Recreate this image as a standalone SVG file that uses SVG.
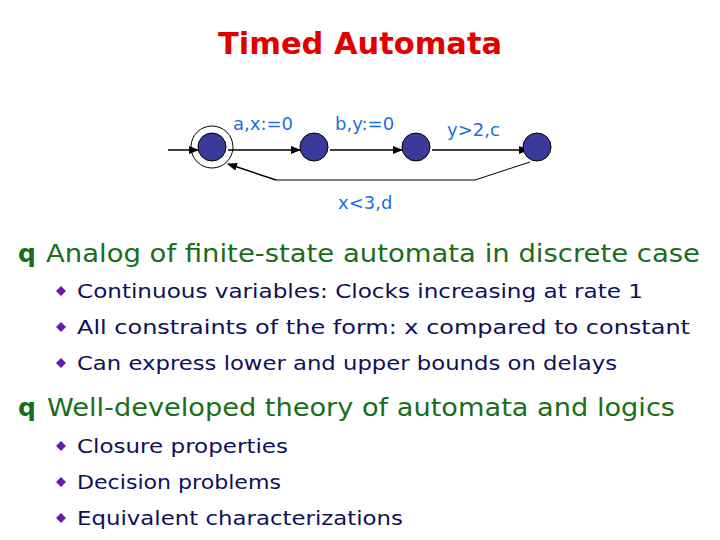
<svg xmlns="http://www.w3.org/2000/svg" width="720" height="540" viewBox="0 0 720 540">
<defs>
<marker id="ah" markerWidth="10" markerHeight="8" refX="9" refY="4" orient="auto" markerUnits="userSpaceOnUse"><path d="M0,0 L10,4 L0,8 z" fill="#000"/></marker>
<style>
text{font-family:"DejaVu Sans","Liberation Sans",sans-serif}
.lbl{fill:#1e6ee0;font-size:18px}
.st{fill:#3a3a9a;stroke:#000;stroke-width:1}
.h{fill:#1a6e1a;font-size:25px}
.b{fill:#10105a;font-size:20px}
.bul{fill:#6a1ab0}
.e{fill:none;stroke:#000;stroke-width:1.5}
</style>
</defs>
<rect width="720" height="540" fill="#fff"/>
<text x="360" y="54" text-anchor="middle" fill="#e00000" font-size="31" font-weight="bold" textLength="284" lengthAdjust="spacingAndGlyphs">Timed Automata</text>
<g id="connectors">
<line class="e" x1="168" y1="150" x2="198" y2="150" marker-end="url(#ah)"/>
<line class="e" x1="228" y1="150" x2="300" y2="150" marker-end="url(#ah)"/>
<line class="e" x1="330" y1="150" x2="402" y2="150" marker-end="url(#ah)"/>
<line class="e" x1="432" y1="150" x2="528" y2="150" marker-end="url(#ah)"/>
<polyline fill="none" stroke="#000" stroke-width="1" points="530,162 475,180 276,180"/>
<line class="e" x1="276" y1="180" x2="228" y2="164" marker-end="url(#ah)"/>
</g>
<g id="s0"><circle cx="212" cy="147" r="21" fill="none" stroke="#000"/><circle class="st" cx="212" cy="147" r="14"/></g>
<g id="s1"><circle class="st" cx="314" cy="147" r="14"/></g>
<g id="s2"><circle class="st" cx="416" cy="147" r="14"/></g>
<g id="s3"><circle class="st" cx="537" cy="147" r="14"/></g>
<text class="lbl" x="233" y="130">a,x:=0</text>
<text class="lbl" x="335" y="130">b,y:=0</text>
<text class="lbl" x="447" y="136">y&gt;2,c</text>
<text class="lbl" x="338" y="209">x&lt;3,d</text>
<text class="h" x="18" y="262" font-weight="bold">q</text>
<text class="h" x="46" y="262" textLength="654" lengthAdjust="spacingAndGlyphs">Analog of finite-state automata in discrete case</text>
<text class="h" x="18" y="416" font-weight="bold">q</text>
<text class="h" x="47" y="416" textLength="628" lengthAdjust="spacingAndGlyphs">Well-developed theory of automata and logics</text>
<g class="bul">
<path d="M56,291 l5,-5 l5,5 l-5,5z"/><path d="M56,327 l5,-5 l5,5 l-5,5z"/><path d="M56,363 l5,-5 l5,5 l-5,5z"/>
<path d="M56,446 l5,-5 l5,5 l-5,5z"/><path d="M56,482 l5,-5 l5,5 l-5,5z"/><path d="M56,518 l5,-5 l5,5 l-5,5z"/>
</g>
<text class="b" x="77" y="298" textLength="566" lengthAdjust="spacingAndGlyphs">Continuous variables: Clocks increasing at rate 1</text>
<text class="b" x="77" y="334" textLength="613" lengthAdjust="spacingAndGlyphs">All constraints of the form: x compared to constant</text>
<text class="b" x="77" y="370" textLength="540" lengthAdjust="spacingAndGlyphs">Can express lower and upper bounds on delays</text>
<text class="b" x="77" y="453" textLength="211" lengthAdjust="spacingAndGlyphs">Closure properties</text>
<text class="b" x="77" y="489" textLength="204" lengthAdjust="spacingAndGlyphs">Decision problems</text>
<text class="b" x="77" y="525" textLength="326" lengthAdjust="spacingAndGlyphs">Equivalent characterizations</text>
</svg>
